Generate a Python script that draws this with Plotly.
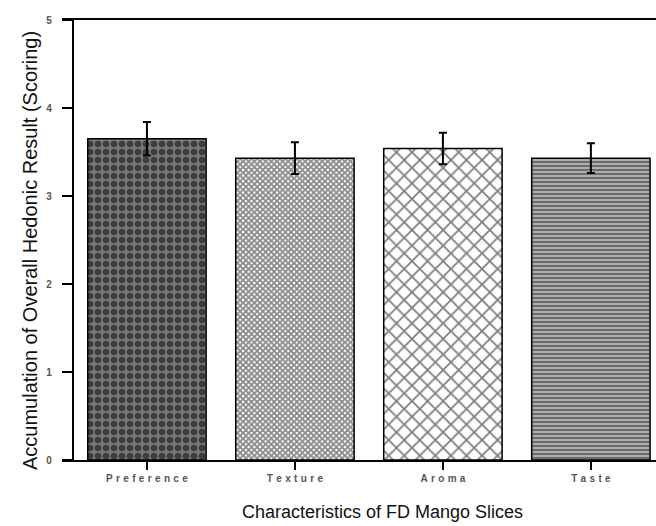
import plotly.graph_objects as go

# Hedonic scores for freeze-dried mango slices
categories = ["Preference", "Texture", "Aroma", "Taste"]
mean_scores = [3.65, 3.43, 3.54, 3.43]
std_errors = [0.19, 0.18, 0.18, 0.17]
y_ticks = [0, 1, 2, 3, 4, 5]

x_title = "Characteristics of FD Mango Slices"
y_title = "Accumulation of Overall Hedonic Result (Scoring)"

# Fill styles for each bar
patterns = [
    dict(shape=".", size=8, solidity=0.55, fgcolor="#000000", bgcolor="#7a7a7a", fillmode="overlay"),
    dict(shape="x", size=4, solidity=0.7, fgcolor="#111111", bgcolor="#ffffff", fillmode="overlay"),
    dict(shape="x", size=11, solidity=0.3, fgcolor="#000000", bgcolor="#ffffff", fillmode="overlay"),
    dict(shape="-", size=4, solidity=0.55, fgcolor="#222222", bgcolor="#b5b5b5", fillmode="overlay"),
]

# Plot-area geometry in pixels
fig_w, fig_h = 656, 526
m_l, m_r, m_t, m_b = 62, 0, 20, 66
plot_w = fig_w - m_l - m_r
plot_h = fig_h - m_t - m_b


def spaced(label):
    # widen tick labels with three-per-em spaces between letters
    return "\u2004".join(label)


def px_to_paper_x(px):
    return (px - m_l) / plot_w


def px_to_paper_y(py):
    return (fig_h - m_b - py) / plot_h


fig = go.Figure()
for i, cat in enumerate(categories):
    fig.add_trace(go.Bar(
        x=[i],
        y=[mean_scores[i]],
        width=0.8,
        marker=dict(color="#ffffff", pattern=patterns[i],
                    line=dict(color="#000000", width=1.5)),
        error_y=dict(type="data", array=[std_errors[i]], visible=True,
                     color="#000000", thickness=2, width=4),
        showlegend=False,
        hoverinfo="skip",
    ))

font_family = "Arial, Liberation Sans, sans-serif"

fig.update_layout(
    width=fig_w,
    height=fig_h,
    margin=dict(l=m_l, r=m_r, t=m_t, b=m_b),
    paper_bgcolor="#ffffff",
    plot_bgcolor="#ffffff",
    font=dict(family=font_family, color="#000000"),
    bargap=0.2,
    xaxis=dict(
        range=[-0.574, 3.44],
        tickmode="array",
        tickvals=list(range(len(categories))),
        ticktext=[spaced(c) for c in categories],
        tickfont=dict(size=10, color="#555555", family=font_family, weight="bold"),
        ticks="outside",
        ticklen=8,
        tickwidth=1.5,
        tickcolor="#000000",
        showline=True,
        linecolor="#000000",
        linewidth=1.5,
        mirror=True,
        showgrid=False,
        zeroline=False,
    ),
    yaxis=dict(
        range=[0, 5],
        anchor="free",
        position=px_to_paper_x(72.5),
        tickmode="array",
        tickvals=y_ticks,
        ticktext=[str(v) for v in y_ticks],
        tickfont=dict(size=10, color="#555555", family=font_family, weight="bold"),
        ticks="outside",
        ticklen=10,
        tickwidth=1.5,
        tickcolor="#000000",
        ticklabelstandoff=8,
        showline=True,
        linecolor="#000000",
        linewidth=1.5,
        mirror=False,
        showgrid=False,
        zeroline=False,
    ),
    annotations=[
        dict(text=x_title, xref="paper", yref="paper",
             x=px_to_paper_x(382), y=px_to_paper_y(512),
             xanchor="center", yanchor="middle", showarrow=False,
             font=dict(size=18, color="#111111", family=font_family)),
        dict(text=y_title, xref="paper", yref="paper",
             x=px_to_paper_x(30), y=px_to_paper_y(251), textangle=-90,
             xanchor="center", yanchor="middle", showarrow=False,
             font=dict(size=20, color="#111111", family=font_family)),
    ],
)

fig.write_html("out.html")
